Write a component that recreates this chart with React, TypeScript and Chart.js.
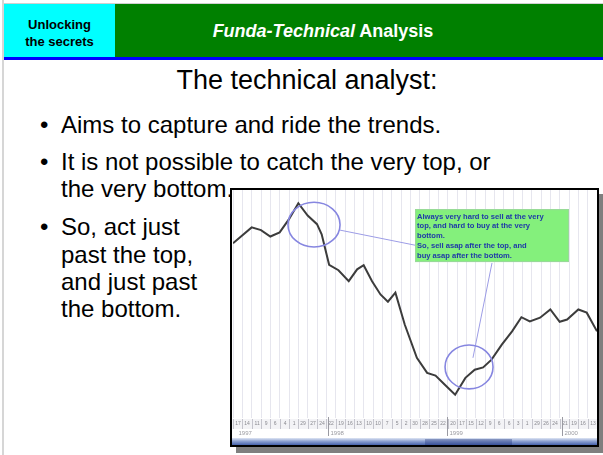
import React, { useEffect, useRef } from "react";
import { Chart, registerables } from "chart.js";

Chart.register(...registerables);

// ---- data ----
const periods = [0, 2, 3, 4, 5, 6, 7, 8, 9, 9.5, 10.3, 11.3, 12.4, 13.3, 14, 14.9, 15.8, 16.6, 17.4, 18.4, 19.7, 20.8, 21.7, 22.7, 23.8, 24.9, 25.9, 26.8, 27.7, 28.8, 29.9, 30.9, 31.8, 32.9, 34, 35, 35.8, 37, 37.9, 39];
const prices = [38.3, 41.8, 41.2, 39.8, 40.7, 43.6, 47.1, 44.4, 42.5, 40.3, 33.6, 32.4, 30.0, 32.6, 33.5, 30.0, 27.1, 25.5, 27.5, 20.5, 13.2, 9.9, 9.3, 7.3, 5.1, 8.8, 10.6, 11.1, 12.8, 16.1, 19.0, 22.1, 21.2, 22.0, 23.8, 21.1, 21.6, 23.8, 23.1, 19.0];
const periodTicks = ["17", "14", "11", "9", "6", "4", "1", "29", "27", "24", "22", "19", "16", "13", "10", "10", "7", "5", "2", "30", "28", "25", "22", "20", "17", "15", "12", "9", "6", "6", "3", "1", "29", "26", "24", "21", "19", "16", "13", "10"];
const yearLabels = ["1997", "1998", "1999", "2000"];
const yearStarts = [0.3, 10.2, 22.9, 35.2];

// annotations (data units)
const ellipseX = [8.68, 25.29];
const ellipseY = [42.4, 11.2];
const ellipseRX = [2.79, 2.57];
const ellipseRY = [4.9, 4.82];
const connectorFrom = [[11.47, 41.2], [27.75, 34.0]];
const connectorTo = [[19.5, 37.9], [25.71, 13.2]];
const calloutBox = [19.5, 45.8, 36.0, 34.2]; // x1, yTop, x2, yBottom
const calloutLines = [
  "Always very hard to sell at the very",
  "top, and hard to buy at the very",
  "bottom.",
  "So, sell asap after the top, and",
  "buy asap after the bottom.",
];

const bullets = [
  { bullet: true, text: "Aims to capture and ride the trends.", base: 132.7 },
  { bullet: true, text: "It is not possible to catch the very top, or", base: 170 },
  { bullet: false, text: "the very bottom.", base: 196.7 },
  { bullet: true, text: "So, act just", base: 235 },
  { bullet: false, text: "past the top,", base: 262.7 },
  { bullet: false, text: "and just past", base: 290 },
  { bullet: false, text: "the bottom.", base: 317.3 },
];

const FONT = "'Liberation Sans', Arial, Helvetica, sans-serif";

const decorPlugin = {
  id: "decor",
  beforeDatasetsDraw(chart: any) {
    const ctx = chart.ctx;
    const xs = chart.scales.x;
    const W = chart.width;
    ctx.save();
    // tick row band
    ctx.fillStyle = "#f3f3f6";
    ctx.fillRect(0, 229, W, 10);
    ctx.strokeStyle = "#c4c4cc";
    ctx.lineWidth = 1;
    for (let i = 0; i < periodTicks.length; i++) {
      const px = Math.round(xs.getPixelForValue(i)) + 0.5;
      ctx.beginPath();
      ctx.moveTo(px, 229);
      ctx.lineTo(px, 239);
      ctx.stroke();
      ctx.fillStyle = "#8a8a90";
      ctx.font = "5px " + FONT;
      ctx.textAlign = "center";
      ctx.textBaseline = "middle";
      ctx.fillText(periodTicks[i], px + 4.6, 234);
    }
    ctx.strokeStyle = "#9a9aa2";
    for (let i = 0; i < yearStarts.length; i++) {
      const px = Math.round(xs.getPixelForValue(yearStarts[i])) + 0.5;
      if (i > 0) {
        ctx.beginPath();
        ctx.moveTo(px, 227);
        ctx.lineTo(px, 246);
        ctx.stroke();
      }
      ctx.fillStyle = "#9a9aa0";
      ctx.font = "6px " + FONT;
      ctx.textAlign = "left";
      ctx.textBaseline = "middle";
      ctx.fillText(yearLabels[i], px + 2, 243);
    }
    // scrollbar
    const g = ctx.createLinearGradient(0, 248, 0, 256);
    g.addColorStop(0, "#dfe6f4");
    g.addColorStop(0.4, "#8ea2d2");
    g.addColorStop(1, "#3452a2");
    ctx.fillStyle = g;
    ctx.fillRect(0, 248, W, 8);
    ctx.fillStyle = "rgba(30,50,120,0.35)";
    ctx.fillRect(193, 249, 87, 6);
    ctx.restore();
  },
  afterDatasetsDraw(chart: any) {
    const ctx = chart.ctx;
    const xs = chart.scales.x;
    const ys = chart.scales.y;
    ctx.save();
    // connectors
    ctx.strokeStyle = "#9c9ce6";
    ctx.lineWidth = 1;
    for (let i = 0; i < connectorFrom.length; i++) {
      ctx.beginPath();
      ctx.moveTo(xs.getPixelForValue(connectorFrom[i][0]), ys.getPixelForValue(connectorFrom[i][1]));
      ctx.lineTo(xs.getPixelForValue(connectorTo[i][0]), ys.getPixelForValue(connectorTo[i][1]));
      ctx.stroke();
    }
    // ellipses
    ctx.strokeStyle = "#8686e0";
    ctx.lineWidth = 1.6;
    for (let i = 0; i < ellipseX.length; i++) {
      const cx = xs.getPixelForValue(ellipseX[i]);
      const cy = ys.getPixelForValue(ellipseY[i]);
      const rx = Math.abs(xs.getPixelForValue(ellipseX[i] + ellipseRX[i]) - cx);
      const ry = Math.abs(ys.getPixelForValue(ellipseY[i] + ellipseRY[i]) - cy);
      ctx.beginPath();
      ctx.ellipse(cx, cy, rx, ry, 0, 0, Math.PI * 2);
      ctx.stroke();
    }
    // callout box
    const bx1 = xs.getPixelForValue(calloutBox[0]);
    const by1 = ys.getPixelForValue(calloutBox[1]);
    const bx2 = xs.getPixelForValue(calloutBox[2]);
    const by2 = ys.getPixelForValue(calloutBox[3]);
    ctx.fillStyle = "#84f07c";
    ctx.fillRect(bx1, by1, bx2 - bx1, by2 - by1);
    ctx.strokeStyle = "#9ad89a";
    ctx.lineWidth = 1;
    ctx.strokeRect(bx1 + 0.5, by1 + 0.5, bx2 - bx1 - 1, by2 - by1 - 1);
    ctx.fillStyle = "#1f3aa8";
    ctx.font = "bold 7.6px " + FONT;
    ctx.textAlign = "left";
    ctx.textBaseline = "alphabetic";
    for (let i = 0; i < calloutLines.length; i++) {
      ctx.fillText(calloutLines[i], bx1 + 2, by1 + 9.5 + i * 9.8);
    }
    ctx.restore();
  },
};

function PriceChart() {
  const ref = useRef<HTMLCanvasElement | null>(null);
  useEffect(() => {
    if (!ref.current) return;
    const chart = new Chart(ref.current, {
      type: "line",
      data: {
        datasets: [
          {
            data: periods.map((p, i) => ({ x: p, y: prices[i] })),
            borderColor: "#3c3c3c",
            borderWidth: 2,
            pointRadius: 0,
            tension: 0,
            fill: false,
          },
        ],
      },
      options: {
        responsive: false,
        animation: false,
        layout: { padding: { left: 1, right: 0, top: 0, bottom: 27 } },
        plugins: { legend: { display: false }, tooltip: { enabled: false } },
        scales: {
          x: {
            type: "linear",
            min: 0,
            max: 39,
            ticks: { display: false, stepSize: 1 },
            grid: { color: "rgba(200,200,218,0.45)", drawTicks: false },
            border: { display: false },
          },
          y: { display: false, min: 0, max: 50 },
        },
      },
      plugins: [decorPlugin],
    } as any);
    return () => chart.destroy();
  }, []);
  return <canvas ref={ref} width={365} height={255} style={{ display: "block", width: 365, height: 255 }} />;
}

export default function App() {
  return (
    <div style={{ position: "fixed", left: 0, top: 0, width: 603, height: 455, background: "#fff", overflow: "hidden", fontFamily: FONT }}>
      <div style={{ position: "absolute", left: 2, top: 0, width: 2, height: 455, background: "#d6d6d6" }} />
      <div style={{ position: "absolute", left: 4, top: 3, width: 599, height: 1, background: "#d0d0d0" }} />
      <div style={{ position: "absolute", left: 4, top: 4, width: 111, height: 53, background: "#00ffff" }}>
        <div style={{ position: "absolute", left: 0, top: 12, width: 111, textAlign: "center", fontWeight: "bold", fontSize: 13, lineHeight: "17px", color: "#000" }}>
          Unlocking<br />the secrets
        </div>
      </div>
      <div style={{ position: "absolute", left: 115, top: 4, width: 488, height: 53, background: "#008000" }} />
      <div style={{ position: "absolute", left: 115, top: 20, width: 416, textAlign: "center", color: "#fff", fontWeight: "bold", fontSize: 18, lineHeight: "22px", whiteSpace: "nowrap" }}>
        <i>Funda-Technical</i> Analysis
      </div>
      <div style={{ position: "absolute", left: 4, top: 57, width: 599, height: 3, background: "#0000ff" }} />
      <div style={{ position: "absolute", left: 0, top: 65, width: 614, textAlign: "center", fontSize: 27, lineHeight: "31px", color: "#000", whiteSpace: "nowrap" }}>
        The technical analyst:
      </div>
      {bullets.map((b, i) => (
        <React.Fragment key={i}>
          {b.bullet && (
            <div style={{ position: "absolute", left: 40, top: b.base - 21.9, fontSize: 24, lineHeight: "28px", color: "#000" }}>•</div>
          )}
          <div style={{ position: "absolute", left: 61, top: b.base - 21.9, fontSize: 24, lineHeight: "28px", color: "#000", whiteSpace: "nowrap" }}>
            {b.text}
          </div>
        </React.Fragment>
      ))}
      <div style={{ position: "absolute", left: 230, top: 188, width: 369, height: 259, boxSizing: "border-box", border: "2px solid #000", background: "#fff", boxShadow: "6px 6px 0 #7f7f7f" }}>
        <PriceChart />
      </div>
    </div>
  );
}
